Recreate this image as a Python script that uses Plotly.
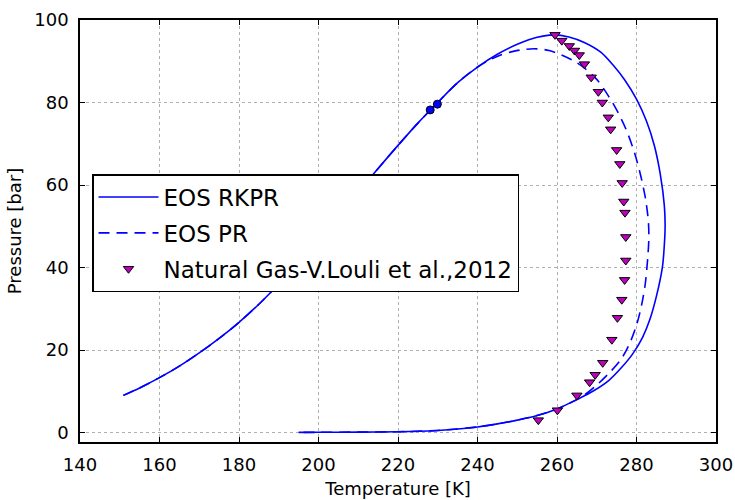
import plotly.graph_objects as go

# ---- data ----
rkpr_T = [150.9, 155.0, 160.0, 165.0, 170.0, 175.0, 180.0, 185.0, 190.0, 195.0, 200.0, 205.0,
          210.0, 215.0, 220.0, 225.0, 230.0, 235.0, 240.0, 245.0, 250.0, 255.0, 259.0, 263.0,
          267.0, 271.0, 274.0, 277.0, 280.0, 282.5, 284.5, 286.0, 287.0, 287.2, 286.9, 286.5,
          285.0, 283.4, 281.5, 279.0, 276.0, 273.0, 269.0, 265.0, 260.0, 255.0, 250.0, 245.0,
          240.0, 235.0, 230.0, 225.0, 220.0, 210.0, 200.0, 195.0]
rkpr_P = [9.0, 10.8, 13.3, 16.1, 19.3, 22.8, 26.7, 31.1, 36.0, 41.3, 46.8, 52.5,
          58.3, 64.0, 69.6, 75.0, 80.0, 84.8, 88.6, 91.7, 94.1, 95.8, 96.4, 95.9,
          94.5, 92.2, 89.2, 85.5, 80.8, 75.5, 69.5, 62.5, 55.0, 50.0, 44.0, 40.0,
          33.0, 27.5, 23.0, 19.0, 15.5, 12.6, 10.0, 8.0, 5.7, 4.1, 3.0, 2.1,
          1.35, 0.85, 0.5, 0.3, 0.2, 0.1, 0.05, 0.03]

pr_T = [150.9, 155.0, 160.0, 165.0, 170.0, 175.0, 180.0, 185.0, 190.0, 195.0, 200.0, 205.0,
        210.0, 215.0, 220.0, 225.0, 230.0, 235.0, 240.0, 243.0, 246.0, 249.0, 252.0, 255.0,
        258.0, 261.0, 264.0, 267.0, 270.0, 273.0, 275.5, 277.5, 279.5, 281.0, 282.3, 283.0,
        283.1, 282.8, 282.2, 281.3, 280.0, 278.0, 276.0, 273.0, 270.0, 266.6, 263.0, 260.0,
        255.0, 250.0, 245.0, 240.0, 235.0, 230.0, 225.0, 220.0, 210.0, 200.0, 195.0]
pr_P = [9.0, 10.8, 13.3, 16.1, 19.3, 22.8, 26.7, 31.1, 36.0, 41.3, 46.8, 52.5,
        58.3, 64.0, 69.6, 75.0, 80.0, 84.8, 88.6, 90.3, 91.6, 92.4, 92.9, 93.0,
        92.6, 91.6, 90.2, 88.3, 85.6, 81.5, 77.3, 73.2, 67.8, 62.5, 56.5, 51.0,
        47.0, 42.0, 36.0, 31.0, 26.0, 21.0, 17.6, 14.3, 11.5, 8.9, 7.0, 5.7,
        4.1, 3.0, 2.1, 1.35, 0.85, 0.5, 0.3, 0.2, 0.1, 0.05, 0.03]

exp_T = [259.5, 261.2, 263.1, 264.4, 265.6, 266.9, 268.6, 270.4, 271.4, 272.9, 273.5, 275.0,
         275.8, 276.4, 276.8, 277.1, 277.3, 277.3, 277.0, 276.3, 275.2, 273.8, 271.5, 269.6,
         268.2, 265.0, 260.1, 255.3]
exp_P = [96.4, 95.0, 93.7, 92.6, 91.5, 89.3, 86.1, 82.6, 80.0, 76.4, 73.5, 68.5,
         65.1, 60.5, 56.0, 53.3, 47.4, 41.7, 37.0, 32.2, 27.8, 22.5, 16.9, 14.0,
         12.2, 9.0, 5.4, 3.0]

crit_T = [228.1, 229.9]
crit_P = [78.2, 79.6]

x_ticks = [140, 160, 180, 200, 220, 240, 260, 280, 300]
y_ticks = [0, 20, 40, 60, 80, 100]

BLUE = "#0000ff"
FONT = "DejaVu Sans"

fig = go.Figure()
fig.add_trace(go.Scatter(x=rkpr_T, y=rkpr_P, mode="lines", name="EOS RKPR",
                         line=dict(color=BLUE, width=1.6, shape="spline", smoothing=0.9),
                         legendgroup="a"))
fig.add_trace(go.Scatter(x=pr_T, y=pr_P, mode="lines", name="EOS PR",
                         line=dict(color=BLUE, width=1.6, dash="11px,7px", shape="spline",
                                   smoothing=0.9),
                         legendgroup="b"))
fig.add_trace(go.Scatter(x=exp_T, y=exp_P, mode="markers", name="Natural Gas-V.Louli et al.,2012",
                         marker=dict(symbol="triangle-down", size=9, color="#bf00bf",
                                     line=dict(color="black", width=1)), legendgroup="c"))
fig.add_trace(go.Scatter(x=crit_T, y=crit_P, mode="markers", showlegend=False,
                         marker=dict(symbol="circle", size=8, color=BLUE,
                                     line=dict(color="black", width=1))))

axis_common = dict(showline=True, linecolor="black", linewidth=1.5, mirror="allticks",
                   ticks="inside", ticklen=5, tickwidth=1, tickcolor="black",
                   showgrid=True, gridcolor="#b0b0b0", griddash="3px,3px", gridwidth=1,
                   zeroline=False, automargin=False,
                   tickfont=dict(family=FONT, size=18, color="black"))

fig.update_xaxes(range=[140, 300], tickvals=x_ticks, ticktext=[str(v) for v in x_ticks],
                 title=dict(text="Temperature [K]", font=dict(family=FONT, size=18, color="black"),
                            standoff=8),
                 ticklabelstandoff=6, **axis_common)
fig.update_yaxes(range=[-2.3, 100], tickvals=y_ticks, ticktext=[str(v) for v in y_ticks],
                 title=dict(text="Pressure [bar]", font=dict(family=FONT, size=18, color="black"),
                            standoff=8),
                 ticklabelstandoff=6, **axis_common)

fig.update_layout(
    width=735, height=500,
    margin=dict(l=80, r=19, t=20, b=58),
    paper_bgcolor="white", plot_bgcolor="white",
    font=dict(family=FONT, size=18, color="black"),
    legend=dict(x=0.0189, y=0.635, xanchor="left", yanchor="top",
                bgcolor="white", bordercolor="black", borderwidth=1.5,
                font=dict(family=FONT, size=23, color="black"),
                itemwidth=60,
                traceorder="grouped", tracegroupgap=3),
    showlegend=True,
)

fig.write_html("out.html")
